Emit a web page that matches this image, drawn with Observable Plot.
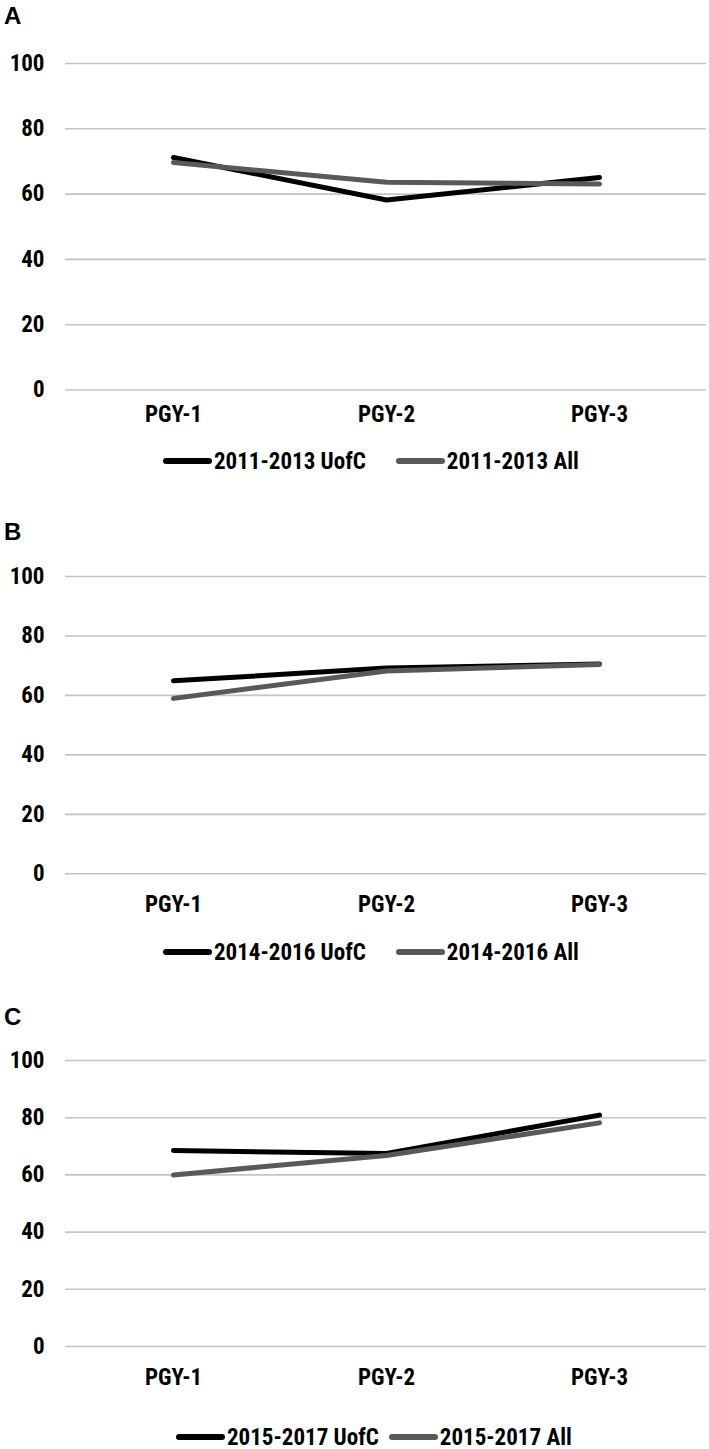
<!DOCTYPE html>
<html>
<head>
<meta charset="utf-8">
<script src="https://cdn.jsdelivr.net/npm/d3@7"></script>
<script src="https://cdn.jsdelivr.net/npm/@observablehq/plot@0.6"></script>
<style>
  html, body { margin: 0; padding: 0; background: #fff; }
  #root { position: relative; width: 709px; height: 1449px; overflow: hidden; }
  .panel-label { position: absolute; left: 4px; font-family: "Liberation Sans", Arial, sans-serif; font-weight: bold; font-size: 24px; line-height: 30px; color: #000; }
  .legend { position: absolute; display: flex; align-items: center; height: 30px; font-family: "Liberation Sans Narrow", "Arial Narrow", "Roboto Condensed", Roboto, "Liberation Sans", Arial, sans-serif; font-weight: bold; font-size: 23px; color: #000; white-space: nowrap; }
  .legend .item { display: flex; align-items: center; }
  .legend .sw { display: inline-block; width: 49px; height: 6px; border-radius: 3px; margin-right: 2px; }
  .plotbox { position: absolute; left: 0; }
</style>
</head>
<body>
<div id="root"></div>
<script>
// ---- data ----
const categories = ["PGY-1", "PGY-2", "PGY-3"];
const yTicks = [0, 20, 40, 60, 80, 100];
const panelLabels = ["A", "B", "C"];
const seriesNamesA = ["2011-2013 UofC", "2011-2013 All"];
const seriesNamesB = ["2014-2016 UofC", "2014-2016 All"];
const seriesNamesC = ["2015-2017 UofC", "2015-2017 All"];
const panelA_uofc = [71.2, 58.2, 65.1];
const panelA_all  = [69.7, 63.6, 63.1];
const panelB_uofc = [64.9, 69.2, 70.6];
const panelB_all  = [59.0, 68.2, 70.4];
const panelC_uofc = [68.5, 67.5, 80.9];
const panelC_all  = [60.0, 66.8, 78.2];
const seriesColors = ["#000000", "#595959"];

const narrow = '"Liberation Sans Narrow","Arial Narrow","Roboto Condensed",Roboto,"Liberation Sans",Arial,sans-serif';
const root = document.getElementById("root");

function panel(cfg) {
  const { label, labelY, y100, y0, tickPad, uofc, all, names, legendY, legendX, legendGap } = cfg;
  const h = y0 - y100;
  const mt = 20, mb = 45;
  const data = [];
  categories.forEach((c, i) => data.push({ cat: c, value: uofc[i], series: names[0] }));
  categories.forEach((c, i) => data.push({ cat: c, value: all[i], series: names[1] }));

  const chart = Plot.plot({
    width: 709,
    height: mt + h + mb,
    marginTop: mt,
    marginBottom: mb,
    marginLeft: 65,
    marginRight: 3,
    style: { fontFamily: narrow, fontSize: "23px", fontWeight: "bold", color: "#000", background: "transparent", overflow: "visible" },
    x: { type: "point", domain: categories, padding: 0.5 },
    y: { domain: [0, 100] },
    color: { domain: names, range: seriesColors },
    marks: [
      Plot.ruleY(yTicks, { stroke: "#c4c4c4", strokeWidth: 1.6 }),
      Plot.axisY(yTicks, { tickSize: 0, tickPadding: 21, label: null, fill: "#000" }),
      Plot.axisX({ tickSize: 0, tickPadding: tickPad, label: null, fill: "#000" }),
      Plot.line(data, { x: "cat", y: "value", z: "series", stroke: "series", strokeWidth: 5, strokeLinecap: "round", strokeLinejoin: "round" })
    ]
  });
  const box = document.createElement("div");
  box.className = "plotbox";
  box.style.top = (y100 - mt) + "px";
  box.appendChild(chart);
  root.appendChild(box);

  const lab = document.createElement("div");
  lab.className = "panel-label";
  lab.style.top = (labelY - 15) + "px";
  lab.textContent = label;
  root.appendChild(lab);

  const leg = document.createElement("div");
  leg.className = "legend";
  leg.style.top = (legendY - 15) + "px";
  leg.style.left = legendX + "px";
  names.forEach((n, i) => {
    const it = document.createElement("span");
    it.className = "item";
    if (i > 0) it.style.marginLeft = legendGap + "px";
    const sw = document.createElement("span");
    sw.className = "sw";
    sw.style.background = seriesColors[i];
    const tx = document.createElement("span");
    tx.textContent = n;
    it.appendChild(sw);
    it.appendChild(tx);
    leg.appendChild(it);
  });
  root.appendChild(leg);
}

panel({ label: panelLabels[0], labelY: 16, y100: 62.7, y0: 389.2, tickPad: 16, uofc: panelA_uofc, all: panelA_all, names: seriesNamesA, legendY: 461, legendX: 163, legendGap: 30 });
panel({ label: panelLabels[1], labelY: 532, y100: 576, y0: 873.3, tickPad: 22, uofc: panelB_uofc, all: panelB_all, names: seriesNamesB, legendY: 952, legendX: 163, legendGap: 30 });
panel({ label: panelLabels[2], labelY: 1017, y100: 1060, y0: 1346, tickPad: 22.5, uofc: panelC_uofc, all: panelC_all, names: seriesNamesC, legendY: 1437, legendX: 176, legendGap: 10 });
</script>
</body>
</html>
